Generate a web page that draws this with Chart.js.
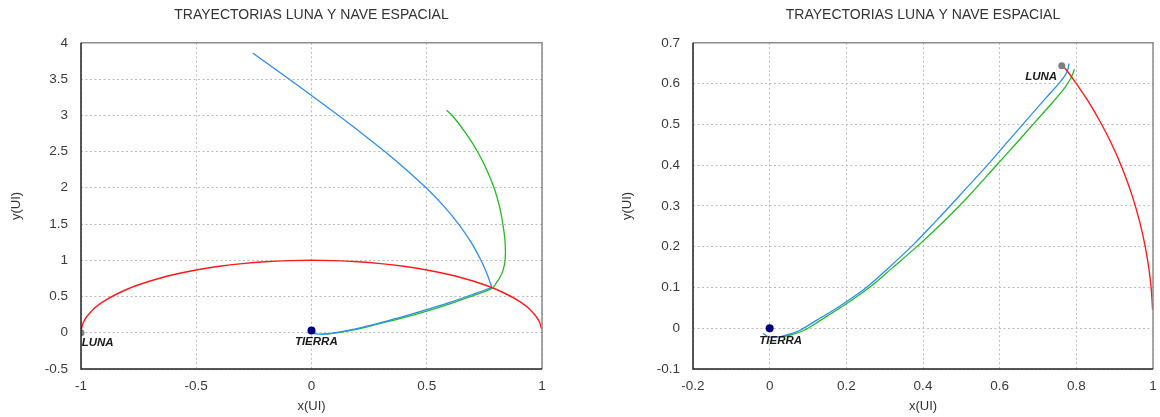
<!DOCTYPE html>
<html>
<head>
<meta charset="utf-8">
<script src="https://cdn.jsdelivr.net/npm/chart.js@4.4.1/dist/chart.umd.min.js"></script>
<style>
  html, body { margin: 0; padding: 0; background: #fff; }
  #wrap { position: relative; width: 1160px; height: 417px; }
  .box { position: absolute; top: 0; width: 580px; height: 417px; }
</style>
</head>
<body>
<div id="wrap">
  <div class="box" style="left:0"><canvas id="chartLeft" width="580" height="417"></canvas></div>
  <div class="box" style="left:580px"><canvas id="chartRight" width="580" height="417"></canvas></div>
</div>
<script>
const TITLE = "TRAYECTORIAS LUNA Y NAVE ESPACIAL";

// --- left panel: full view ---
const leftXTicks = [-1, -0.5, 0, 0.5, 1];
const leftYTicks = [-0.5, 0, 0.5, 1, 1.5, 2, 2.5, 3, 3.5, 4];

const leftMoonOrbit = [
  [-0.999, 0.045], [-0.99, 0.141], [-0.95, 0.312], [-0.9, 0.436], [-0.8, 0.6], [-0.7, 0.714],
  [-0.6, 0.8], [-0.5, 0.866], [-0.4, 0.917], [-0.3, 0.954], [-0.2, 0.98], [-0.1, 0.995],
  [0, 1], [0.1, 0.995], [0.2, 0.98], [0.3, 0.954], [0.4, 0.917], [0.5, 0.866], [0.6, 0.8],
  [0.7, 0.714], [0.8, 0.6], [0.9, 0.436], [0.95, 0.312], [0.99, 0.141], [0.999, 0.045],
];
const leftShipBlue = [
  [0.01, -0.01], [0.04, -0.02], [0.08, -0.012], [0.13, 0.015], [0.2, 0.06], [0.3, 0.14],
  [0.4, 0.225], [0.5, 0.32], [0.6, 0.42], [0.7, 0.53], [0.76, 0.6], [0.78, 0.632],
  [0.774, 0.7], [0.763, 0.8], [0.735, 1.0], [0.692, 1.25], [0.638, 1.5], [0.573, 1.75],
  [0.497, 2.0], [0.411, 2.25], [0.318, 2.5], [0.219, 2.75], [0.116, 3.0], [0.01, 3.25],
  [-0.098, 3.5], [-0.255, 3.86],
];
const leftShipGreen = [
  [0.04, -0.02], [0.1, -0.005], [0.2, 0.05], [0.3, 0.13], [0.4, 0.21], [0.5, 0.3],
  [0.6, 0.4], [0.7, 0.51], [0.76, 0.58], [0.787, 0.62], [0.8, 0.68], [0.815, 0.75],
  [0.83, 0.85], [0.84, 1.0], [0.84, 1.25], [0.83, 1.5], [0.815, 1.75], [0.792, 2.0],
  [0.76, 2.25], [0.72, 2.5], [0.67, 2.75], [0.61, 3.0], [0.586, 3.07],
];
const leftEarth = [[0, 0.03]];
const leftMoon = [[-1, 0]];
const leftLabelText = ["LUNA", "TIERRA"];
const leftLabelX = [-0.997, -0.072];
const leftLabelY = [-0.135, -0.132];
const leftLabelAlign = ["left", "left"];

// --- right panel: zoomed view ---
const rightXTicks = [-0.2, 0, 0.2, 0.4, 0.6, 0.8, 1];
const rightYTicks = [-0.1, 0, 0.1, 0.2, 0.3, 0.4, 0.5, 0.6, 0.7];

const rightMoonOrbit = [
  [0.765, 0.644], [0.78, 0.626], [0.8, 0.6], [0.83, 0.558], [0.86, 0.51], [0.89, 0.456],
  [0.92, 0.392], [0.945, 0.327], [0.965, 0.262], [0.98, 0.199], [0.99, 0.141],
  [0.996, 0.09], [0.999, 0.045],
];
const rightShipBlue = [
  [-0.017, -0.013], [-0.003, -0.021], [0.027, -0.021], [0.053, -0.014], [0.079, -0.005],
  [0.123, 0.02], [0.166, 0.044], [0.2, 0.065], [0.25, 0.098], [0.308, 0.146],
  [0.375, 0.205], [0.433, 0.262], [0.5, 0.33], [0.568, 0.4], [0.616, 0.452],
  [0.665, 0.505], [0.722, 0.566], [0.757, 0.603], [0.772, 0.622], [0.778, 0.635],
  [0.781, 0.649],
];
const rightShipGreen = [
  [0.03, -0.022], [0.06, -0.015], [0.09, -0.005], [0.13, 0.018], [0.2, 0.06], [0.26, 0.1],
  [0.32, 0.148], [0.39, 0.205], [0.45, 0.258], [0.52, 0.325], [0.59, 0.398], [0.64, 0.45],
  [0.69, 0.503], [0.74, 0.556], [0.77, 0.59], [0.785, 0.612], [0.79, 0.622], [0.795, 0.635],
];
const rightEarth = [[0, 0]];
const rightMoon = [[0.762, 0.644]];
const rightLabelText = ["TIERRA", "LUNA"];
const rightLabelX = [-0.027, 0.75];
const rightLabelY = [-0.03, 0.617];
const rightLabelAlign = ["left", "right"];

Chart.defaults.font.family = "'Liberation Sans', Arial, sans-serif";
Chart.defaults.animation = false;

const toPts = (arr) => arr.map(([x, y]) => ({ x, y }));

// plot frame: dark left/bottom, gray top/right
const frame = {
  id: "frame",
  afterDatasetsDraw(chart) {
    const { ctx, chartArea: a } = chart;
    ctx.save();
    ctx.lineWidth = 1.5;
    ctx.strokeStyle = "#8c8c8c";
    ctx.beginPath();
    ctx.moveTo(a.left, a.top);
    ctx.lineTo(a.right, a.top);
    ctx.lineTo(a.right, a.bottom);
    ctx.stroke();
    ctx.strokeStyle = "#222";
    ctx.beginPath();
    ctx.moveTo(a.left, a.top);
    ctx.lineTo(a.left, a.bottom);
    ctx.lineTo(a.right, a.bottom);
    ctx.stroke();
    ctx.restore();
  },
};

const textLabels = {
  id: "textLabels",
  afterDatasetsDraw(chart, args, opts) {
    const { ctx, scales: { x, y } } = chart;
    ctx.save();
    ctx.font = "italic bold 11.5px 'Liberation Sans', Arial, sans-serif";
    ctx.fillStyle = "#1a1a1a";
    ctx.textBaseline = "middle";
    opts.text.forEach((t, i) => {
      ctx.textAlign = opts.align[i];
      ctx.fillText(t, x.getPixelForValue(opts.x[i]), y.getPixelForValue(opts.y[i]));
    });
    ctx.restore();
  },
};

function line(data, color, width, mode) {
  return {
    data: toPts(data),
    showLine: true,
    borderColor: color,
    borderWidth: width,
    pointRadius: 0,
    tension: 0.35,
    cubicInterpolationMode: mode || "default",
    fill: false,
  };
}

function dot(data, color, r) {
  return {
    data: toPts(data),
    showLine: false,
    backgroundColor: color,
    borderColor: color,
    borderWidth: 0,
    pointRadius: r,
  };
}

function axis(ticks, text, isX, fitSize, titlePad) {
  return {
    type: "linear",
    min: ticks[0],
    max: ticks[ticks.length - 1],
    afterBuildTicks: (s) => { s.ticks = ticks.map((v) => ({ value: v })); },
    ticks: {
      color: "#3a3a3a",
      font: { size: 13.5 },
      padding: isX ? 9 : 13,
      callback: (v) => String(v),
    },
    grid: { color: "#bdbdbd", lineWidth: 1, drawTicks: false },
    border: { display: true, width: 0, dash: [2, 2.5] },
    title: {
      display: true,
      text,
      color: "#333",
      font: { size: 13 },
      padding: titlePad,
    },
    afterFit: (s) => {
      if (isX) {
        s.height = fitSize;
        s.paddingLeft = 4;
        s.paddingRight = 4;
      } else {
        s.width = fitSize;
      }
    },
  };
}

function makeChart(id, p) {
  new Chart(document.getElementById(id), {
    type: "scatter",
    data: {
      datasets: [
        dot(p.earth, "#000080", 4),
        dot(p.moon, "#808080", 3.5),
        line(p.orbit, "#ff1a1a", 1.4, "monotone"),
        line(p.blue, "#2b8ef0", 1.3),
        line(p.green, "#22bb22", 1.3),
      ],
    },
    options: {
      responsive: false,
      layout: { padding: { left: 0, right: p.padRight, top: 0, bottom: 0 } },
      plugins: {
        legend: { display: false },
        tooltip: { enabled: false },
        title: {
          display: true,
          text: TITLE,
          fullSize: false,
          color: "#333",
          font: { size: 14, weight: "normal" },
          padding: { top: 7, bottom: 19 },
        },
        textLabels: { text: p.labelText, x: p.labelX, y: p.labelY, align: p.labelAlign },
      },
      scales: {
        x: axis(p.xTicks, "x(UI)", true, 48, { top: 0, bottom: 3 }),
        y: axis(p.yTicks, "y(UI)", false, p.yWidth, { top: p.yTitlePad, bottom: 0 }),
      },
    },
    plugins: [frame, textLabels],
  });
}

makeChart("chartLeft", {
  earth: leftEarth, moon: leftMoon, orbit: leftMoonOrbit, blue: leftShipBlue, green: leftShipGreen,
  xTicks: leftXTicks, yTicks: leftYTicks, yWidth: 81, yTitlePad: 9, padRight: 38,
  labelText: leftLabelText, labelX: leftLabelX, labelY: leftLabelY, labelAlign: leftLabelAlign,
});

makeChart("chartRight", {
  earth: rightEarth, moon: rightMoon, orbit: rightMoonOrbit, blue: rightShipBlue, green: rightShipGreen,
  xTicks: rightXTicks, yTicks: rightYTicks, yWidth: 113, yTitlePad: 40, padRight: 7,
  labelText: rightLabelText, labelX: rightLabelX, labelY: rightLabelY, labelAlign: rightLabelAlign,
});
</script>
</body>
</html>
